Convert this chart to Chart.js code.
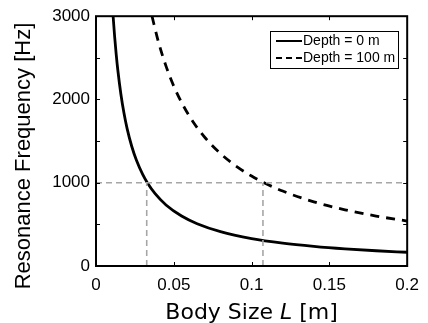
<!DOCTYPE html>
<html>
<head>
<meta charset="utf-8">
<script src="https://cdn.jsdelivr.net/npm/chart.js@4"></script>
<style>
  html, body { margin: 0; padding: 0; background: #fff; }
  #wrap { width: 428px; height: 323px; }
</style>
</head>
<body>
<div id="wrap"><canvas id="chart" width="428" height="323"></canvas></div>
<script>
// valeurs
const sizeSurface = [0.011, 0.012, 0.013, 0.014, 0.016, 0.018, 0.02, 0.023, 0.026, 0.03, 0.033, 0.038, 0.045, 0.055, 0.065, 0.08, 0.1, 0.12, 0.14, 0.16, 0.18, 0.2];
const freqSurface = [3000, 2750, 2538, 2357, 2063, 1833, 1650, 1435, 1269, 1100, 1000, 868, 733, 600, 508, 413, 330, 275, 236, 206, 183, 165];
const sizeDeep = [0.036, 0.04, 0.045, 0.05, 0.056, 0.063, 0.07, 0.08, 0.09, 0.1, 0.107, 0.12, 0.14, 0.16, 0.18, 0.2];
const freqDeep = [3000, 2700, 2400, 2160, 1929, 1714, 1543, 1350, 1200, 1080, 1009, 900, 771, 675, 600, 540];
const seriesLabels = ['Depth = 0 m', 'Depth = 100 m'];
const crossSizes = [0.0326, 0.1073];
const crossFreq = 1000;
const xTicks = [0, 0.05, 0.1, 0.15, 0.2];
const yTicks = [0, 1000, 2000, 3000];

const AREA = { left: 96, top: 16, right: 413, bottom: 266 };
const GREY = '#a6a6a6';

function pts(xs, ys) {
    return xs.map((x, i) => ({ x: x, y: ys[i] }));
}

const guideStyle = {
    borderColor: GREY, borderWidth: 1.6, borderDash: [6, 4],
    pointRadius: 0, fill: false, tension: 0
};

const datasets = [
    Object.assign({ label: 'guide-h', data: [{ x: 0, y: crossFreq }, { x: 0.2, y: crossFreq }] }, guideStyle),
    Object.assign({ label: 'guide-v1', data: [{ x: crossSizes[0], y: 0 }, { x: crossSizes[0], y: crossFreq }] }, guideStyle),
    Object.assign({ label: 'guide-v2', data: [{ x: crossSizes[1], y: 0 }, { x: crossSizes[1], y: crossFreq }] }, guideStyle),
    {
        label: seriesLabels[0], data: pts(sizeSurface, freqSurface),
        borderColor: '#000', borderWidth: 2.8, pointRadius: 0,
        cubicInterpolationMode: 'monotone', fill: false
    },
    {
        label: seriesLabels[1], data: pts(sizeDeep, freqDeep),
        borderColor: '#000', borderWidth: 2.8, borderDash: [9, 7], pointRadius: 0,
        cubicInterpolationMode: 'monotone', fill: false
    }
];

// cadre, graduations vers l'intérieur, titres et légende
const decorPlugin = {
    id: 'decor',
    afterDraw(chart) {
        const c = chart.ctx;
        const a = chart.chartArea;
        const xs = chart.scales.x, ys = chart.scales.y;
        c.save();
        c.strokeStyle = '#000';
        c.lineWidth = 1;
        const tl = 4;
        c.beginPath();
        xs.ticks.forEach(t => {
            const px = Math.round(xs.getPixelForValue(t.value)) + 0.5;
            c.moveTo(px, a.bottom); c.lineTo(px, a.bottom - tl);
            c.moveTo(px, a.top); c.lineTo(px, a.top + tl);
        });
        ys.ticks.forEach(t => {
            const py = Math.round(ys.getPixelForValue(t.value)) + 0.5;
            c.moveTo(a.left, py); c.lineTo(a.left + tl, py);
            c.moveTo(a.right, py); c.lineTo(a.right - tl, py);
        });
        c.stroke();
        c.lineWidth = 2;
        c.strokeRect(a.left, a.top, a.right - a.left, a.bottom - a.top);

        // titre axe x avec L en italique
        const f = '22px "DejaVu Sans"';
        const fi = 'oblique 22px "DejaVu Sans"';
        const parts = [['Body Size ', f], ['L', fi], [' [m]', f]];
        let w = 0;
        parts.forEach(p => { c.font = p[1]; w += c.measureText(p[0]).width; });
        let x = (a.left + a.right) / 2 - w / 2;
        c.fillStyle = '#000';
        c.textBaseline = 'alphabetic';
        c.textAlign = 'left';
        parts.forEach(p => { c.font = p[1]; c.fillText(p[0], x, 319); x += c.measureText(p[0]).width; });

        // titre axe y
        c.save();
        c.translate(30, 156);
        c.rotate(-Math.PI / 2);
        c.font = '22px "Liberation Sans"';
        c.textAlign = 'center';
        c.fillText('Resonance Frequency [Hz]', 0, 0);
        c.restore();

        // légende
        const lx = 270, ly = 31, lw = 128, lh = 37;
        c.fillStyle = '#fff';
        c.fillRect(lx, ly, lw, lh);
        c.lineWidth = 1;
        c.strokeStyle = '#000';
        c.strokeRect(lx + 0.5, ly + 0.5, lw, lh);
        c.font = '14px "Liberation Sans"';
        c.textBaseline = 'middle';
        c.fillStyle = '#000';
        [3, 4].forEach((di, i) => {
            const ds = chart.data.datasets[di];
            const yy = ly + 10 + i * 17;
            c.beginPath();
            c.lineWidth = 2;
            c.setLineDash(ds.borderDash ? [6, 4] : []);
            c.moveTo(lx + 6, yy); c.lineTo(lx + 32, yy);
            c.stroke();
            c.setLineDash([]);
            c.fillText(ds.label, lx + 33, yy);
        });
        c.restore();
    }
};

new Chart(document.getElementById('chart'), {
    type: 'line',
    data: { datasets: datasets },
    options: {
        responsive: false,
        animation: false,
        layout: { padding: { top: AREA.top, right: 428 - AREA.right, left: 0, bottom: 0 } },
        plugins: { legend: { display: false }, tooltip: { enabled: false } },
        scales: {
            x: {
                type: 'linear', min: 0, max: 0.2,
                afterFit: s => { s.height = 323 - AREA.bottom; },
                afterBuildTicks: s => { s.ticks = xTicks.map(v => ({ value: v })); },
                grid: { display: false, drawTicks: false },
                border: { display: false },
                ticks: {
                    padding: 9, color: '#000',
                    font: { family: '"Liberation Sans"', size: 17 },
                    callback: v => v === 0 ? '0' : String(v)
                }
            },
            y: {
                type: 'linear', min: 0, max: 3000,
                afterFit: s => { s.width = AREA.left; },
                afterBuildTicks: s => {
                    const t = [];
                    for (let v = 0; v <= 3000; v += 500) t.push({ value: v });
                    s.ticks = t;
                },
                grid: { display: false, drawTicks: false },
                border: { display: false },
                ticks: {
                    padding: 6, color: '#000',
                    font: { family: '"Liberation Sans"', size: 17 },
                    callback: v => yTicks.includes(v) ? String(v) : ''
                }
            }
        }
    },
    plugins: [decorPlugin]
});
</script>
</body>
</html>
